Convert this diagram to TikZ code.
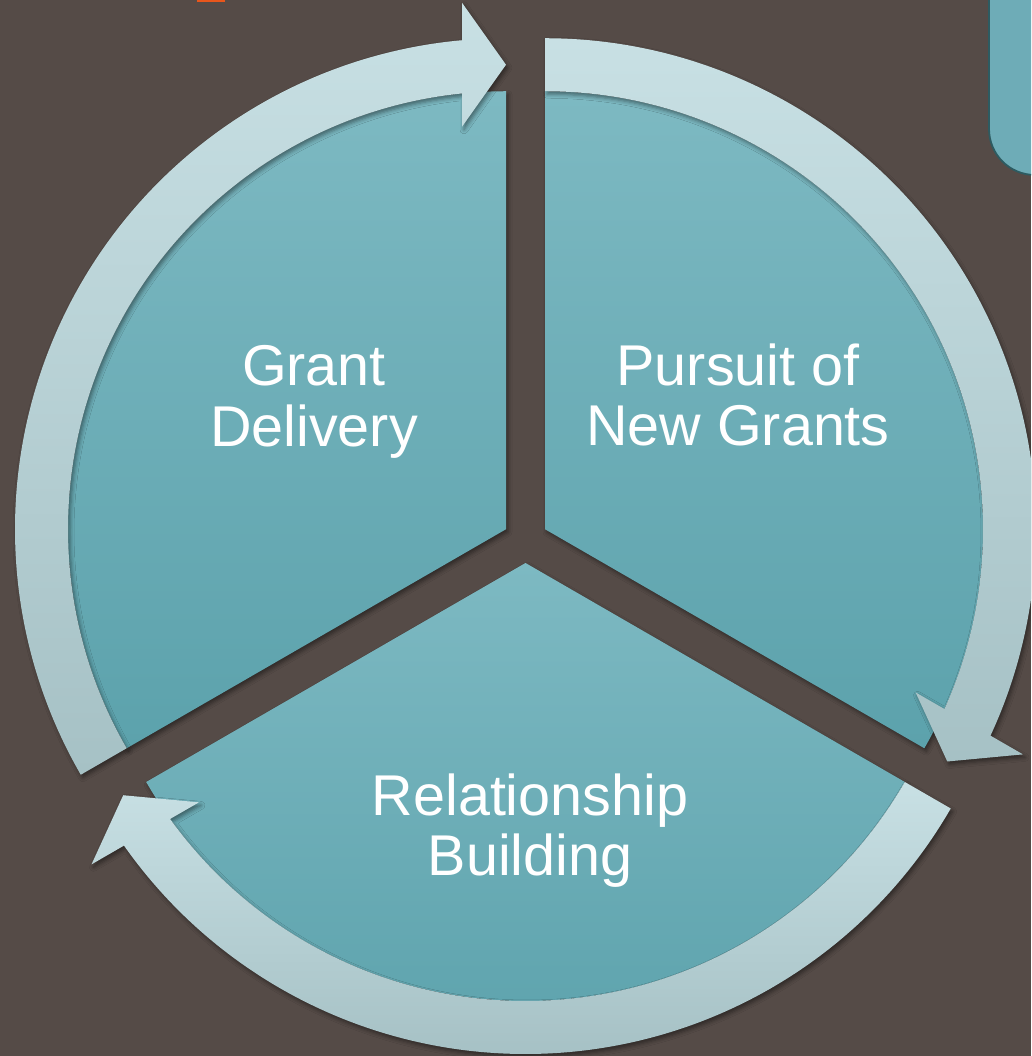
\documentclass[tikz,border=0pt]{standalone}
\usepackage{fontspec}
\setmainfont{Liberation Sans}
\usetikzlibrary{calc,shadows.blur}

\definecolor{bgcol}{HTML}{554B47}
\definecolor{secTop}{HTML}{7DB9C2}
\definecolor{secBot}{HTML}{5CA2AC}
\definecolor{arrTop}{HTML}{C8E0E4}
\definecolor{arrBot}{HTML}{A6C1C5}
\definecolor{boxFill}{HTML}{6EACB7}
\definecolor{boxLine}{HTML}{2D5B61}
\definecolor{orangebar}{HTML}{E8561C}

\def\arrRo{491}
\def\arrRi{438}
\def\arrRm{464.5}
\def\arrW{62}
\def\arrL{44}
\def\secR{438}

\tikzset{
  sectorshape/.style={top color=secTop, bottom color=secBot,
    blur shadow={shadow xshift=2pt, shadow yshift=-3pt, shadow blur radius=4pt, shadow opacity=45}},
  arrowshape/.style={top color=arrTop, bottom color=arrBot,
    blur shadow={shadow xshift=2pt, shadow yshift=-3pt, shadow blur radius=4pt, shadow opacity=45}},
  labeltext/.style={text=white, align=center, inner sep=0pt,
    font=\fontsize{57.5}{60.5}\selectfont}
}

% #1 apex, #2 tail angle, #3 tip angle (clockwise from tail to tip)
\newcommand\cyclearrow[3]{%
  \path[arrowshape] ($(#1)+(#2:\arrRo)$)
    arc[start angle=#2, end angle={#3+asin(\arrL/\arrRo)}, radius=\arrRo pt]
    -- ($(#1)+(#3:{\arrRm+\arrW})+({#3+90}:\arrL)$)
    -- ($(#1)+(#3:\arrRm)$)
    -- ($(#1)+(#3:{\arrRm-\arrW})+({#3+90}:\arrL)$)
    -- ($(#1)+({#3+asin(\arrL/\arrRi)}:\arrRi)$)
    arc[start angle={#3+asin(\arrL/\arrRi)}, end angle=#2, radius=\arrRi pt]
    -- cycle;}

\newcommand\piesector[3]{%
  \path[sectorshape] (#1) -- ($(#1)+(#2:\secR)$)
    arc[start angle=#2, end angle=#3, radius=\secR pt] -- cycle;}

\begin{document}
\begin{tikzpicture}[x=1pt,y=1pt]
\fill[bgcol] (0,0) rectangle (1031,1056);
\useasboundingbox (0,0) rectangle (1031,1056);
\clip (0,0) rectangle (1031,1056);

% partial elements at the top edge
\fill[orangebar] (197,1053.5) rectangle (225,1057);
\draw[fill=boxFill, draw=boxLine, line width=1.8pt, rounded corners=46pt]
  (989,881) rectangle (1100,1120);

\coordinate (TL) at (506.0,526.75);
\coordinate (TR) at (545.0,526.75);
\coordinate (BT) at (525.5,493.0);

\piesector{TL}{90}{210}
\piesector{TR}{-30}{90}
\piesector{BT}{210}{330}

\cyclearrow{TL}{210}{90}
\cyclearrow{TR}{90}{-30}
\cyclearrow{BT}{330}{210}

\node[labeltext] (gd) at (314,654) {Grant\\Delivery};
\node[labeltext] (pn) at (738,661) {Pursuit of\\New Grants};
\node[labeltext] (rb) at (530,225.5) {Relationship\\Building};
\end{tikzpicture}
\end{document}
